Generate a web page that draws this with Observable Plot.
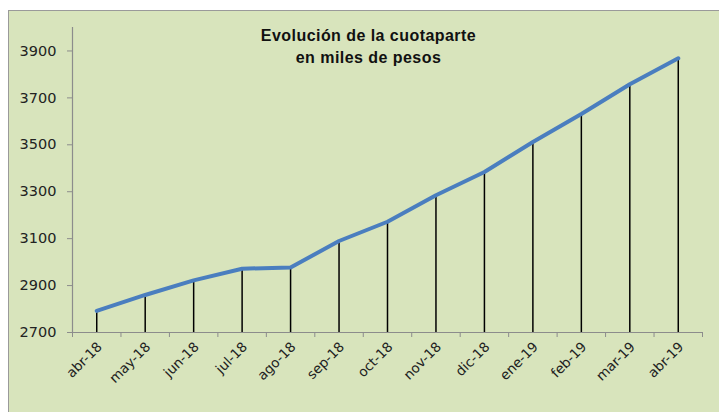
<!DOCTYPE html>
<html><head><meta charset="utf-8">
<script src="https://cdn.jsdelivr.net/npm/d3@7"></script>
<script src="https://cdn.jsdelivr.net/npm/@observablehq/plot@0.6"></script>
<style>
html,body{margin:0;padding:0;background:#fff;}
#wrap{position:relative;width:719px;height:412px;overflow:hidden;}
#bg{position:absolute;left:8px;top:10px;width:720px;height:410px;background:#d8e4bc;border:1px solid #9a9a9a;box-sizing:border-box;}
#title{position:absolute;left:0;top:25px;width:737px;text-align:center;font-family:"Liberation Sans",Arial,sans-serif;font-weight:bold;font-size:16px;line-height:22px;color:#111;letter-spacing:0.45px;}
#chart{position:absolute;left:0;top:0;}
</style></head>
<body><div id="wrap"><div id="bg"></div><div id="chart"></div><div id="title">Evolución de la cuotaparte<br>en miles de pesos</div></div>
<script>
const months = ["abr-18","may-18","jun-18","jul-18","ago-18","sep-18","oct-18","nov-18","dic-18","ene-19","feb-19","mar-19","abr-19"];
const values = [2792, 2860, 2922, 2972, 2977, 3090, 3172, 3285, 3384, 3512, 3631, 3758, 3869];
const yTicks = [2700, 2900, 3100, 3300, 3500, 3700, 3900];

const data = months.map((m, i) => ({i, m, v: values[i]}));
const idx = months.map((_, i) => i);
const bounds = d3.range(months.length + 1).map(i => i - 0.5);

const plot = Plot.plot({
  width: 719, height: 412,
  marginLeft: 72, marginRight: 17, marginTop: 27, marginBottom: 80,
  style: {background: "transparent", fontFamily: "'DejaVu Sans', Verdana, sans-serif", color: "#222"},
  x: {type: "linear", domain: [-0.5, months.length - 0.5], axis: null, label: null},
  y: {domain: [2700, 4000], axis: null, label: null},
  marks: [
    Plot.ruleX([-0.5], {y1: 2700, y2: 4000, stroke: "#8c8c8c", strokeWidth: 1.2}),
    Plot.ruleY([2700], {stroke: "#8c8c8c", strokeWidth: 1.2}),
    Plot.axisY({ticks: yTicks, tickSize: 5, tickPadding: 11, stroke: "#8c8c8c", fontSize: 14.5, label: null, tickFormat: d => String(d)}),
    Plot.axisX({ticks: bounds, tickSize: 5, tickFormat: () => "", stroke: "#8c8c8c", label: null}),
    Plot.axisX({ticks: idx, tickSize: 0, tickPadding: 12, dx: 3, tickRotate: -45, fontSize: 13.5, label: null, tickFormat: i => months[i]}),
    Plot.ruleX(data, {x: "i", y1: 2700, y2: "v", stroke: "#000", strokeWidth: 1.5}),
    Plot.line(data, {x: "i", y: "v", stroke: "#4a7ebf", strokeWidth: 4, strokeLinejoin: "round"})
  ]
});
document.getElementById("chart").appendChild(plot);
</script></body></html>
